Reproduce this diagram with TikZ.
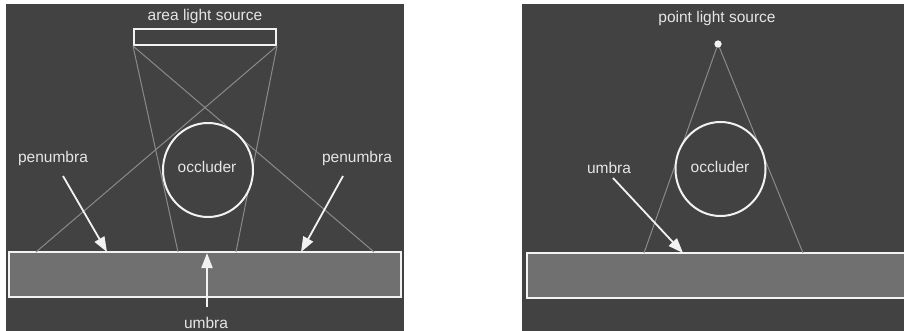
\documentclass[tikz,border=0pt]{standalone}
\usepackage{fontspec}
\setmainfont{Liberation Sans}
\usetikzlibrary{arrows.meta,shapes.geometric}
\definecolor{panelbg}{HTML}{424242}
\definecolor{groundfill}{HTML}{707070}
\definecolor{raygray}{HTML}{8A8A8A}
\definecolor{linewhite}{HTML}{F2F2F2}
\definecolor{textwhite}{HTML}{E6E6E6}
\begin{document}
\begin{tikzpicture}[x=1pt,y=-1pt,
  lbl/.style={text=textwhite,font=\fontsize{15.5}{18}\selectfont,inner sep=0pt,anchor=base},
  ray/.style={draw=raygray,line width=1pt},
  whitebox/.style={rectangle,draw=linewhite,line width=2pt,inner sep=0pt},
  ptr/.style={draw=linewhite,line width=1.8pt,-{Triangle[length=15pt,width=11pt]}},
  occ/.style={ellipse,draw=linewhite,line width=2pt,fill=panelbg,minimum width=90pt,minimum height=94pt,inner sep=0pt}]
\useasboundingbox (0,0) rectangle (904,331);
\clip (0,0) rectangle (904,331);
\fill[white] (0,0) rectangle (904,331);
\fill[panelbg] (6,4) rectangle (404,331);
\fill[panelbg] (522,4) rectangle (904,331);

% ---------- left panel ----------
\node[whitebox,minimum width=142pt,minimum height=16pt] (als) at (205,37) {};
\node[lbl] (alslbl) at (205,21) {area light source};
\node[whitebox,fill=groundfill,minimum width=392pt,minimum height=45pt] (gl) at (205,274.5) {};
\coordinate (r1) at (178,252);
\coordinate (r2) at (236,252);
\coordinate (r3) at (374,252);
\coordinate (r4) at (36,252);
\draw[ray] (als.south west) -- (r1);
\draw[ray] (als.south east) -- (r2);
\draw[ray] (als.south west) -- (r3);
\draw[ray] (als.south east) -- (r4);
\node[occ] (occl) at (208,170) {};
\node[lbl] (occllbl) at (207,173) {occluder};
\node[lbl] (pl) at (53,163) {penumbra};
\node[lbl] (pr) at (357,163) {penumbra};
\node[lbl] (ul) at (206,328) {umbra};
\coordinate (pls) at (63,176);
\coordinate (ple) at (107,252);
\coordinate (prs) at (343,176);
\coordinate (pre) at (301,252);
\coordinate (uls) at (207,307);
\coordinate (ule) at (207,253);
\draw[ptr] (pls) -- (ple);
\draw[ptr] (prs) -- (pre);
\draw[ptr] (uls) -- (ule);

% ---------- right panel ----------
\node[whitebox,fill=groundfill,minimum width=393pt,minimum height=45pt] (gr) at (723.5,275.5) {};
\node[lbl] (plslbl) at (717,23) {point light source};
\coordinate (q1) at (644,253);
\coordinate (q2) at (803,253);
\node[circle,fill=linewhite,minimum size=7pt,inner sep=0pt] (pls2) at (718,44) {};
\draw[ray] (pls2.center) -- (q1);
\draw[ray] (pls2.center) -- (q2);
\node[circle,fill=linewhite,minimum size=7pt,inner sep=0pt] at (pls2.center) {};
\node[occ] (occr) at (720.5,169) {};
\node[lbl] (occrlbl) at (720,173) {occluder};
\node[lbl] (ur) at (609,174) {umbra};
\coordinate (urs) at (613,178);
\coordinate (ure) at (683,253);
\draw[ptr] (urs) -- (ure);
\end{tikzpicture}
\end{document}
